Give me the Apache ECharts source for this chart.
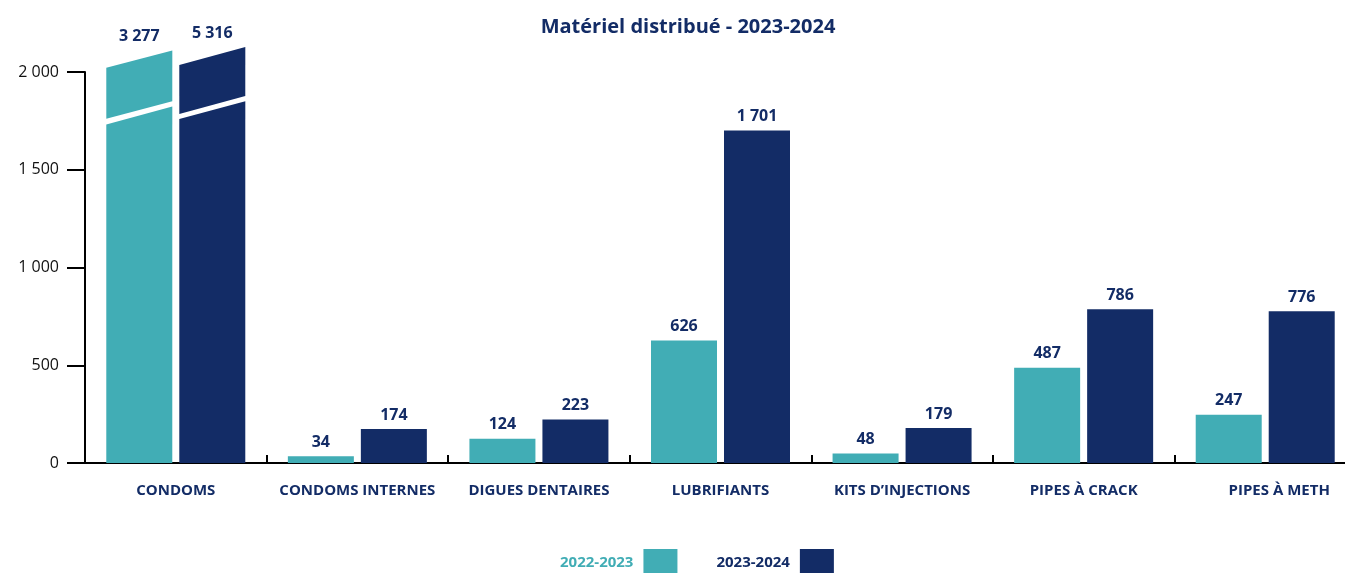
<!DOCTYPE html>
<html>
<head>
<meta charset="utf-8">
<script src="https://cdn.jsdelivr.net/npm/echarts@6/dist/echarts.min.js"></script>
<style>html,body{margin:0;padding:0;background:#fff;}#c{width:1345px;height:573px;}</style>
</head>
<body>
<div id="c"></div>
<script>
const categories = ['CONDOMS', 'CONDOMS INTERNES', 'DIGUES DENTAIRES', 'LUBRIFIANTS', 'KITS D\u2019INJECTIONS', 'PIPES \u00c0 CRACK', 'PIPES \u00c0 METH'];
const values2022 = [3277, 34, 124, 626, 48, 487, 247];
const values2023 = [5316, 174, 223, 1701, 179, 786, 776];
const seriesNames = ['2022-2023', '2023-2024'];
const yTickValues = [0, 500, 1000, 1500, 2000];
const axisMax = 2000;

const TEAL = '#41adb5';
const NAVY = '#132c66';
const FONT = '"Open Sans", sans-serif';

// Shape of the broken (over-scale) bars, in axis units: slanted top and slanted break.
const brokenShape = [
  { topL: 2022, topR: 2110, hiL: 1761, hiR: 1851, loL: 1731, loR: 1824 },
  { topL: 2036, topR: 2128, hiL: 1785, hiR: 1877, loL: 1760, loR: 1851 }
];
const BAR_W = 66, BAR_GAP = 7;

function fmt(v) { return String(v).replace(/\B(?=(\d{3})+(?!\d))/g, ' '); }

function barData(vals) { return vals.map(v => v > axisMax ? '-' : v); }
function brokenData(vals) { return vals.map((v, i) => v > axisMax ? [i, v] : null).filter(Boolean); }

function makeBroken(sIdx, color) {
  const sh = brokenShape[sIdx];
  return function (params, api) {
    const cat = api.value(0), val = api.value(1);
    const base = api.coord([cat, 0]);
    const cx = base[0];
    const x0 = sIdx === 0 ? cx - BAR_GAP / 2 - BAR_W : cx + BAR_GAP / 2;
    const x1 = x0 + BAR_W;
    const y = v => api.coord([cat, v])[1];
    return {
      type: 'group',
      children: [
        { type: 'polygon', shape: { points: [[x0, base[1]], [x1, base[1]], [x1, y(sh.loR)], [x0, y(sh.loL)]] }, style: { fill: color } },
        { type: 'polygon', shape: { points: [[x0, y(sh.hiL)], [x1, y(sh.hiR)], [x1, y(sh.topR)], [x0, y(sh.topL)]] }, style: { fill: color } },
        { type: 'text', x: (x0 + x1) / 2, y: y(sh.topR) - 6,
          style: { text: fmt(val), fill: NAVY, font: 'bold 16px ' + FONT, align: 'center', verticalAlign: 'bottom' } }
      ]
    };
  };
}

const chart = echarts.init(document.getElementById('c'), null, { renderer: 'canvas' });
const barLabel = { show: true, position: 'top', distance: 6, color: NAVY, fontFamily: FONT, fontWeight: 'bold', fontSize: 16, formatter: p => fmt(p.value) };

chart.setOption({
  animation: false,
  backgroundColor: '#fff',
  title: {
    text: 'Mat\u00e9riel distribu\u00e9 - 2023-2024',
    left: 683, top: 12, textAlign: 'center',
    textStyle: { color: NAVY, fontFamily: FONT, fontWeight: 'bold', fontSize: 20 }
  },
  legend: {
    left: 555, top: 544,
    align: 'right',
    itemWidth: 34, itemHeight: 28, itemGap: 39,
    icon: 'rect',
    data: [
      { name: seriesNames[0], textStyle: { color: TEAL } },
      { name: seriesNames[1], textStyle: { color: NAVY } }
    ],
    textStyle: { fontFamily: FONT, fontWeight: 'bold', fontSize: 15, padding: [0, 5, 0, 0] }
  },
  grid: { left: 85, width: 1271, top: 72, bottom: 110, containLabel: false, outerBoundsMode: 'none' },
  xAxis: {
    type: 'category',
    data: categories,
    axisLine: { lineStyle: { color: '#000', width: 2 } },
    axisTick: { show: true, inside: true, length: 8, interval: 0, lineStyle: { color: '#000', width: 2 } },
    axisLabel: {
      interval: 0, margin: 20, color: NAVY, fontFamily: FONT, fontWeight: 'bold', fontSize: 15,
      formatter: (v, i) => i === categories.length - 1 ? '{last|' + v + '}' : v,
      rich: { last: { color: NAVY, fontFamily: FONT, fontWeight: 'bold', fontSize: 15, padding: [0, 0, 0, 28] } }
    }
  },
  yAxis: {
    type: 'value',
    min: 0, max: axisMax, interval: 500,
    axisLine: { show: true, lineStyle: { color: '#000', width: 2 } },
    axisTick: { show: true, length: 18, lineStyle: { color: '#000', width: 2 } },
    splitLine: { show: false },
    axisLabel: {
      margin: 26, color: '#111', fontFamily: FONT, fontSize: 16,
      formatter: v => yTickValues.includes(v) ? fmt(v) : ''
    }
  },
  series: [
    { name: seriesNames[0], type: 'bar', data: barData(values2022), barWidth: BAR_W, barGap: (BAR_GAP / BAR_W * 100) + '%', itemStyle: { color: TEAL }, label: barLabel },
    { name: seriesNames[1], type: 'bar', data: barData(values2023), barWidth: BAR_W, itemStyle: { color: NAVY }, label: barLabel },
    { name: seriesNames[0], type: 'custom', clip: false, z: 3, itemStyle: { color: TEAL }, data: brokenData(values2022), renderItem: makeBroken(0, TEAL), encode: { x: 0, y: 1 } },
    { name: seriesNames[1], type: 'custom', clip: false, z: 3, itemStyle: { color: NAVY }, data: brokenData(values2023), renderItem: makeBroken(1, NAVY), encode: { x: 0, y: 1 } }
  ]
});
</script>
</body>
</html>
